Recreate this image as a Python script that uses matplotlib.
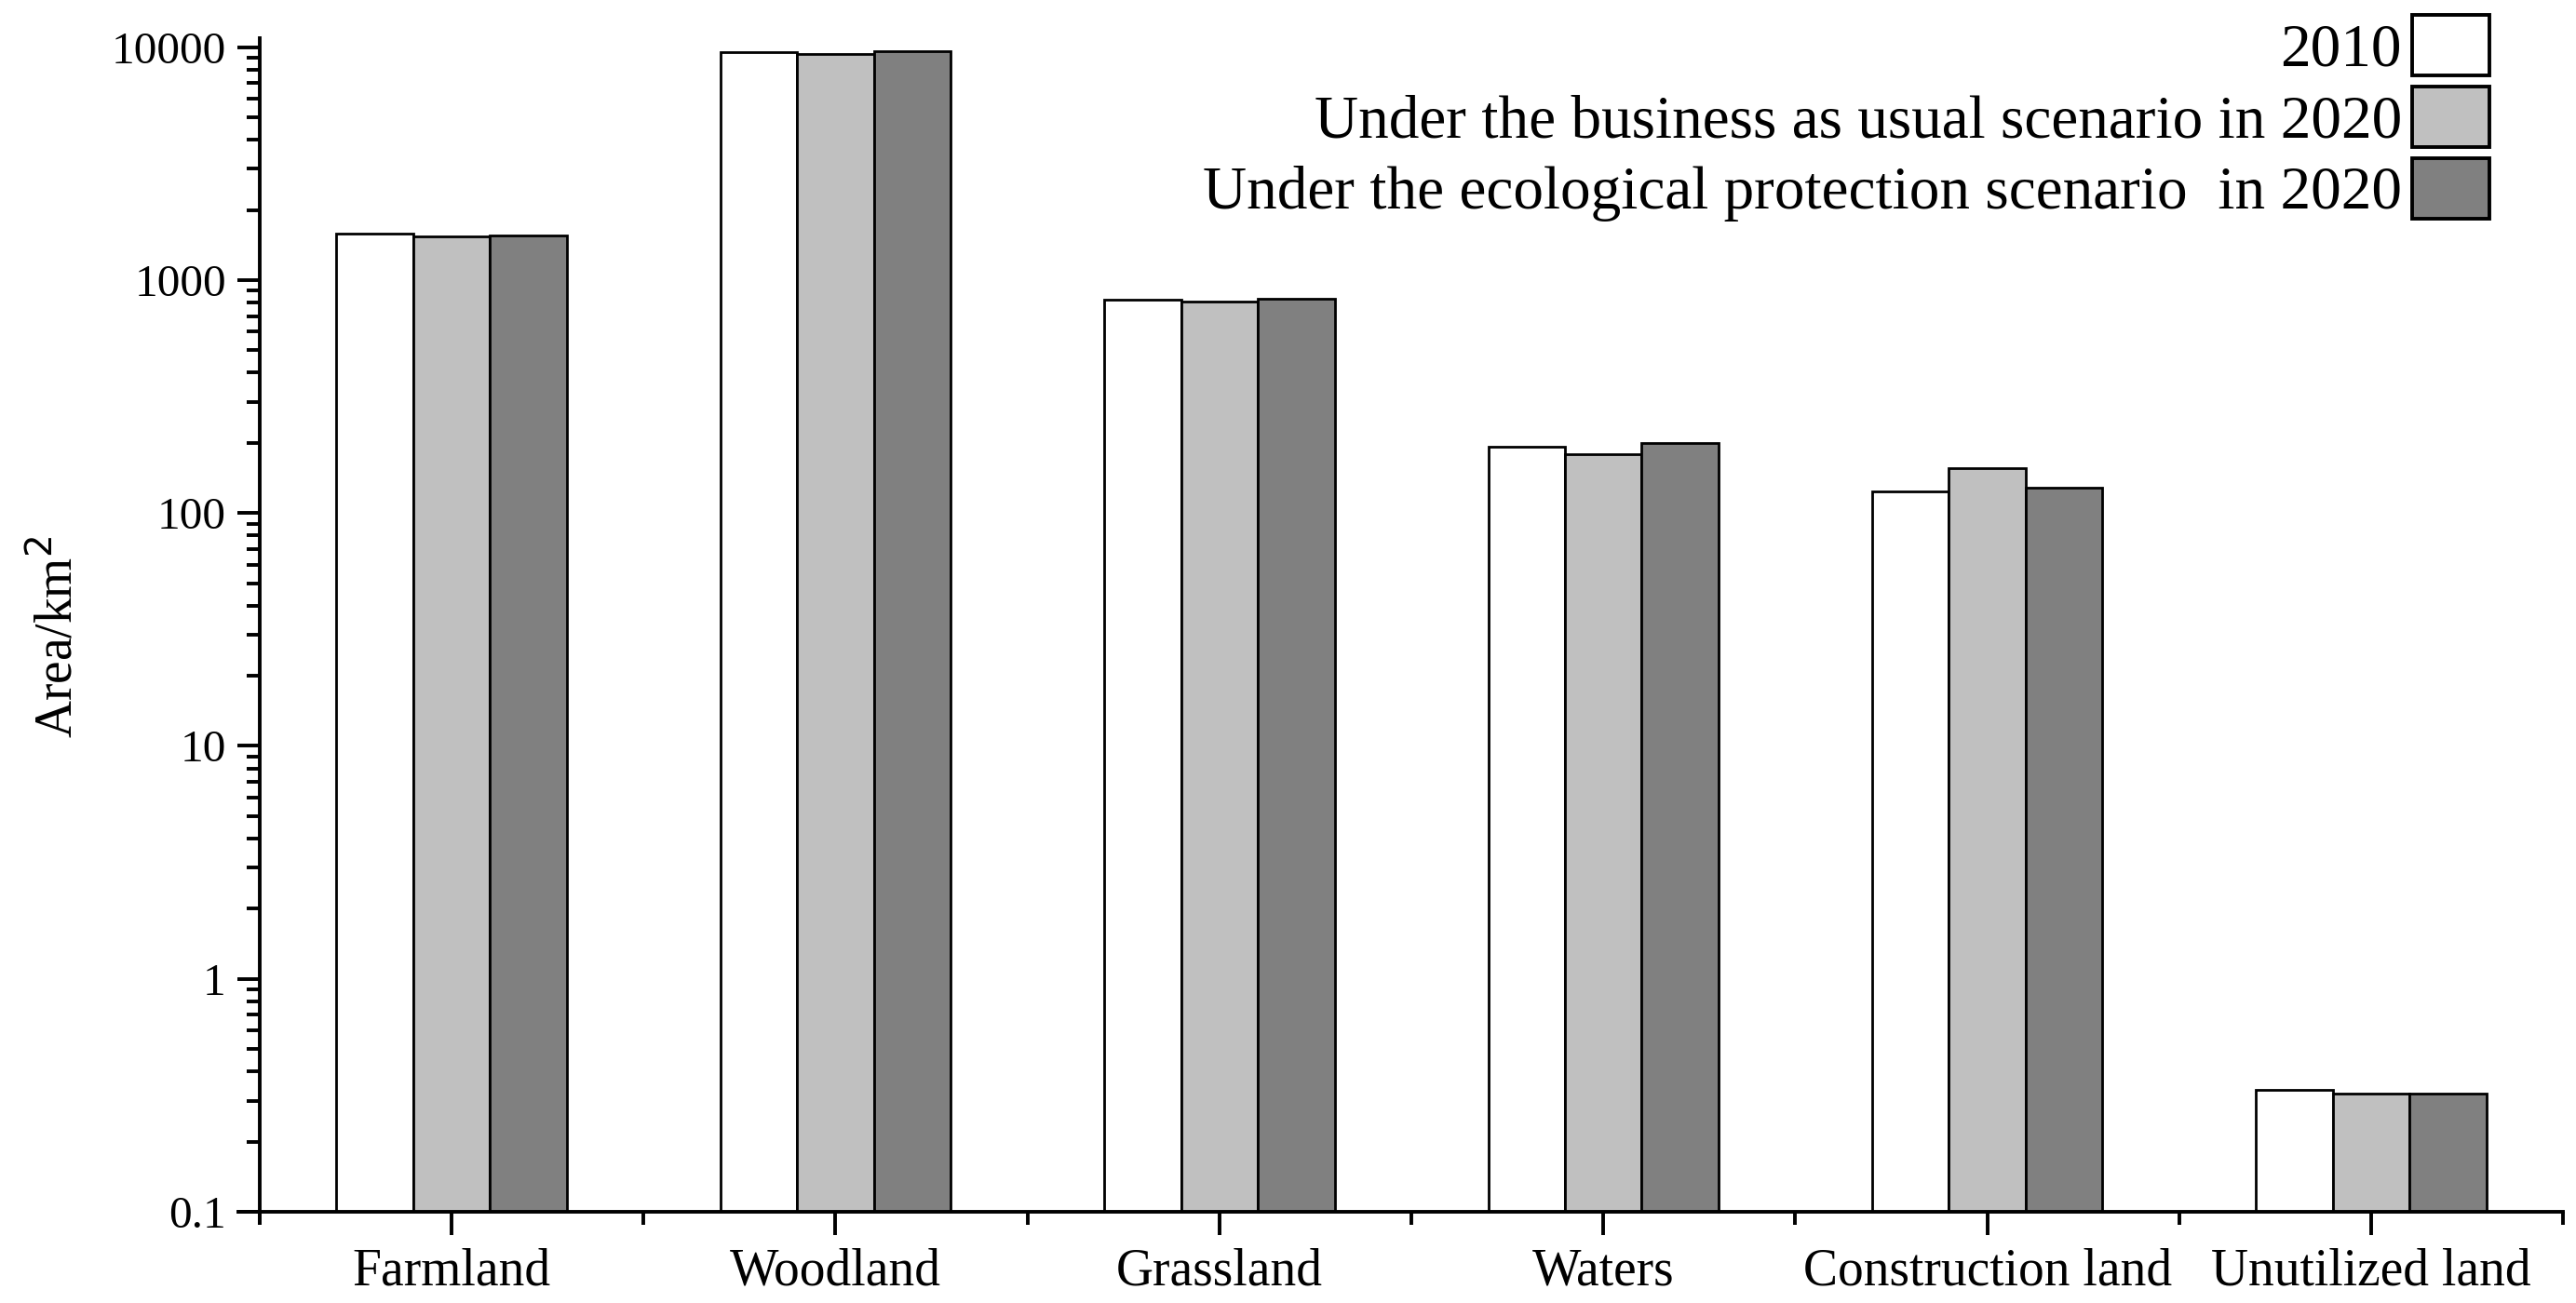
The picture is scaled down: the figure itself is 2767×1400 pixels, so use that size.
import numpy as np
import matplotlib.pyplot as plt
from matplotlib.ticker import FixedLocator, NullFormatter, LogLocator

# Land use categories and areas (km2)
categories = ["Farmland", "Woodland", "Grassland", "Waters",
              "Construction land", "Unutilized land"]
area_2010 = [1585, 9480, 822, 192, 124, 0.335]
area_bau_2020 = [1545, 9330, 806, 178, 156, 0.322]
area_eco_2020 = [1552, 9620, 830, 200, 128, 0.322]

series_labels = ["2010",
                 "Under the business as usual scenario in 2020",
                 "Under the ecological protection scenario  in 2020"]
series_colors = ["#ffffff", "#c0c0c0", "#808080"]
y_ticks = [0.1, 1, 10, 100, 1000, 10000]
y_tick_labels = ["0.1", "1", "10", "100", "1000", "10000"]

BAR_WIDTH = 0.2
AXIS_LW = 1.4

plt.rcParams["font.family"] = ["Liberation Serif", "DejaVu Serif"]

fig = plt.figure(figsize=(13.835, 7), dpi=200)
ax = fig.add_axes([0.1008, 0.07, 0.8942, 0.901])
ax.set_yscale("log")

x = np.arange(len(categories))
all_series = [area_2010, area_bau_2020, area_eco_2020]
for i, (vals, lab, col) in enumerate(zip(all_series, series_labels, series_colors)):
    ax.bar(x + (i - 1) * BAR_WIDTH, vals, width=BAR_WIDTH,
           color=col, edgecolor="black", linewidth=1.0, label=lab)

ax.set_xlim(-0.5, len(categories) - 0.5)
ax.set_ylim(0.1, 10965)

# y axis: log ticks with plain labels
ax.yaxis.set_major_locator(FixedLocator(y_ticks))
ax.set_yticklabels(y_tick_labels)
ax.yaxis.set_minor_locator(LogLocator(base=10, subs=np.arange(2, 10)))
ax.yaxis.set_minor_formatter(NullFormatter())

# x axis: major ticks at groups, minor ticks between groups
ax.set_xticks(x)
ax.set_xticklabels(categories)
ax.xaxis.set_minor_locator(FixedLocator(np.arange(-0.5, len(categories), 1.0)))

for side in ["top", "right"]:
    ax.spines[side].set_visible(False)
for side in ["left", "bottom"]:
    ax.spines[side].set_linewidth(AXIS_LW)
# Origin-style crossing: axes run slightly past each other at the corner
ax.spines["bottom"].set_bounds(-0.556, len(categories) - 0.5)
ax.spines["left"].set_bounds(0.0895, 10965)

ax.tick_params(axis="y", which="major", direction="out", length=8.5, width=AXIS_LW,
               labelsize=17.8, pad=4.5)
ax.tick_params(axis="y", which="minor", direction="out", length=5, width=AXIS_LW)
ax.tick_params(axis="x", which="major", direction="out", length=9, width=AXIS_LW,
               labelsize=20, pad=5)
ax.tick_params(axis="x", which="minor", direction="out", length=5, width=AXIS_LW)

ax.set_ylabel("Area/km$^2$", fontsize=20)
ax.yaxis.set_label_coords(-0.0765, 0.49)

leg = fig.legend(loc="upper right", bbox_to_anchor=(0.9664, 0.9886),
                 frameon=False, markerfirst=False, fontsize=23.5,
                 handlelength=1.27, handleheight=1.15, handletextpad=0.17,
                 labelspacing=0.13, borderpad=0, borderaxespad=0)
for h in leg.legend_handles:
    h.set_linewidth(1.4)

fig.savefig("out.png", dpi=200)
